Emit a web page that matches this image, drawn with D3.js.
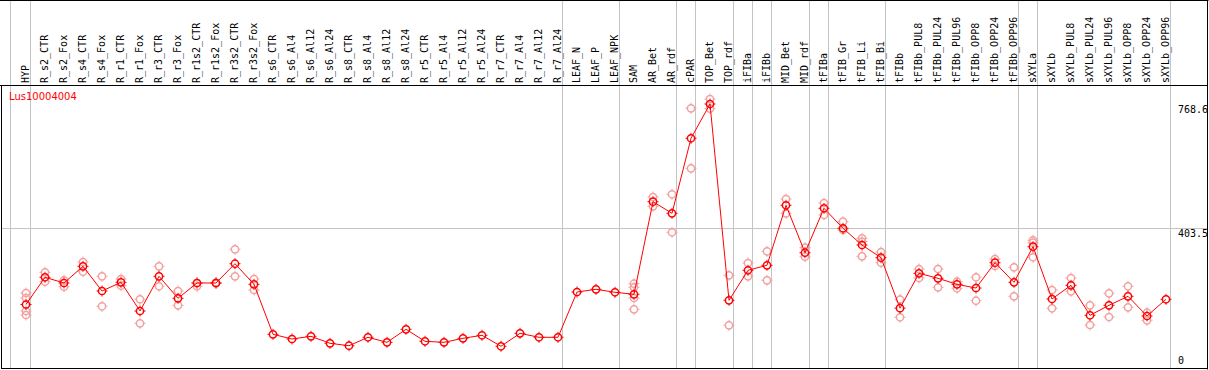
<!DOCTYPE html>
<html>
<head>
<meta charset="utf-8">
<script src="https://cdn.jsdelivr.net/npm/d3@7"></script>
<style>
  body { margin: 0; background: #fff; }
  svg { display: block; }
</style>
</head>
<body>
<div id="chart"></div>
<script>
const geneName = "Lus10004004";

// sample groups, a grey separator line falls between each group
const groups = [
  ["HYP"],
  ["R_s2_CTR", "R_s2_Fox", "R_s4_CTR", "R_s4_Fox", "R_r1_CTR", "R_r1_Fox", "R_r3_CTR", "R_r3_Fox",
   "R_r1s2_CTR", "R_r1s2_Fox", "R_r3s2_CTR", "R_r3s2_Fox", "R_s6_CTR", "R_s6_Al4", "R_s6_Al12", "R_s6_Al24",
   "R_s8_CTR", "R_s8_Al4", "R_s8_Al12", "R_s8_Al24", "R_r5_CTR", "R_r5_Al4", "R_r5_Al12", "R_r5_Al24",
   "R_r7_CTR", "R_r7_Al4", "R_r7_Al12", "R_r7_Al24"],
  ["LEAF_N", "LEAF_P", "LEAF_NPK"],
  ["SAM", "AR_Bet", "AR_rdf"],
  ["cPAR"],
  ["TOP_Bet", "TOP_rdf"],
  ["iFIBa"],
  ["iFIBb"],
  ["MID_Bet", "MID_rdf"],
  ["tFIBa"],
  ["tFIB_Gr", "tFIB_Li", "tFIB_Bi"],
  ["tFIBb", "tFIBb_PUL8", "tFIBb_PUL24", "tFIBb_PUL96", "tFIBb_OPP8", "tFIBb_OPP24", "tFIBb_OPP96"],
  ["sXYLa"],
  ["sXYLb", "sXYLb_PUL8", "sXYLb_PUL24", "sXYLb_PUL96", "sXYLb_OPP8", "sXYLb_OPP24", "sXYLb_OPP96"]
];

const categories = groups.flat();

const means = [
  178.2,
  258.3, 241.5, 290.6, 217.9, 243.5, 159.0, 261.2, 196.4,
  241.5, 241.5, 298.3, 237.6, 90.4, 76.6, 84.5, 63.9,
  56.8, 81.6, 66.8, 105.1, 69.8, 66.8, 78.6, 87.5,
  55.1, 93.3, 81.6, 81.6,
  215.0, 222.9, 214.1,
  208.2, 480.9, 446.7,
  667.6,
  768.6, 190.5,
  278.9,
  293.6,
  470.3, 330.7,
  461.5,
  402.6, 353.4, 316.0,
  167.3, 270.0, 255.3, 237.6, 226.7, 301.3, 243.5,
  348.4,
  194.4, 234.7, 146.4, 175.8, 202.3, 144.3, 193.5
];

// individual replicate values (lighter circles)
const replicates = [
  [212.0, 197.3, 159.0, 147.2],
  [273.0, 245.3], [249.4, 230.6], [303.3, 274.7], [261.2, 172.9], [253.3, 233.5], [193.5, 122.8], [290.6, 231.8], [217.9, 175.8],
  [241.5, 231.8], [243.0, 240.0], [340.7, 261.2], [253.3, 220.9], [], [], [], [],
  [], [], [], [], [], [], [], [],
  [], [], [], [],
  [], [], [],
  [239.4, 228.8, 197.3, 164.0], [494.7, 467.3], [502.7, 390.8],
  [755.9, 579.2],
  [783.0, 755.0], [264.1, 116.9],
  [300.4, 261.2],
  [334.8, 249.4],
  [488.8, 446.7], [345.4, 318.9],
  [477.1, 441.7],
  [422.0, 397.5], [373.1, 363.7, 320.1], [332.8, 301.3],
  [192.9, 140.5], [282.7, 256.2], [282.7, 228.8], [245.3, 225.9], [258.3, 189.3], [312.1, 291.5], [287.7, 202.3],
  [367.2, 360.1, 317.2],
  [220.9, 167.0], [256.2, 217.0], [175.8, 117.8], [211.1, 141.4], [231.8, 169.9], [154.0, 131.6], []
];

const yTicks = [0, 403.5, 768.6];

const width = 1209;
const height = 370;
const headerBottom = 85;
const plotBottom = 369;
const frameRight = 1208;

const svg = d3.select("#chart")
  .append("svg")
  .attr("width", width)
  .attr("height", height);

const x = d3.scalePoint()
  .domain(categories)
  .range([26, 1166]);

const y = d3.scaleLinear()
  .domain([0, 768.6])
  .range([365, 104]);

const grey = "#c4c4c4";

// horizontal mid grid line
svg.append("line")
  .attr("x1", 1).attr("x2", frameRight)
  .attr("y1", Math.round(y(yTicks[1])) + 0.5)
  .attr("y2", Math.round(y(yTicks[1])) + 0.5)
  .attr("stroke", grey);

// group separators
const sepX = [x(categories[0]) - x.step() + 3];
let idx = -1;
groups.forEach(g => {
  idx += g.length;
  sepX.push(x(categories[idx]) + 4);
});

svg.selectAll(".sep")
  .data(sepX)
  .enter()
  .append("line")
  .attr("x1", d => Math.round(d) + 0.5)
  .attr("x2", d => Math.round(d) + 0.5)
  .attr("y1", 0)
  .attr("y2", plotBottom)
  .attr("stroke", grey);

// frame
svg.append("path")
  .attr("d", `M0,0.5H${frameRight + 0.5}M${frameRight - 0.5},0V${plotBottom + 0.5}` +
    `M1.5,${headerBottom}V${plotBottom}M1,${plotBottom - 0.5}H${frameRight}` +
    `M0,${headerBottom + 0.5}H${frameRight}`)
  .attr("stroke", "#000")
  .attr("fill", "none");

// header labels
svg.selectAll(".cat")
  .data(categories)
  .enter()
  .append("text")
  .attr("transform", d => `translate(${Math.round(x(d)) + 3},83) rotate(-90)`)
  .attr("font-family", "DejaVu Sans Mono")
  .attr("font-size", "10px")
  .attr("fill", "#000")
  .text(d => d);

// gene name
svg.append("text")
  .attr("x", 9)
  .attr("y", 100)
  .attr("font-family", "DejaVu Sans")
  .attr("font-size", "10px")
  .attr("fill", "#ff0000")
  .text(geneName);

// right value labels
svg.selectAll(".ytick")
  .data(yTicks)
  .enter()
  .append("text")
  .attr("x", 1178)
  .attr("y", d => d === 0 ? Math.round(y(d)) - 1 : Math.round(y(d)) + 9)
  .attr("font-family", "DejaVu Sans Mono")
  .attr("font-size", "10px")
  .attr("fill", "#000")
  .text(d => d);

const tickPath = "M0,-5.5V-3.5M0,3.5V5.5M-5.5,0H-3.5M3.5,0H5.5";

function marker(sel, color) {
  sel.append("circle")
    .attr("r", 3.6)
    .attr("fill", "none")
    .attr("stroke", color)
    .attr("stroke-width", 1.5);
  sel.append("path")
    .attr("d", tickPath)
    .attr("stroke", color)
    .attr("stroke-width", 1);
}

// replicates
const repData = [];
replicates.forEach((vals, i) => {
  vals.forEach(v => repData.push({ cat: categories[i], v: v }));
});

svg.selectAll(".rep")
  .data(repData)
  .enter()
  .append("g")
  .attr("transform", d => `translate(${x(d.cat)},${y(d.v)})`)
  .call(marker, "#f2a0a0");

// mean line
const line = d3.line()
  .x((d, i) => x(categories[i]))
  .y(d => y(d));

svg.append("path")
  .datum(means)
  .attr("d", line)
  .attr("fill", "none")
  .attr("stroke", "#ff0000")
  .attr("stroke-width", 1);

svg.selectAll(".mean")
  .data(means)
  .enter()
  .append("g")
  .attr("transform", (d, i) => `translate(${x(categories[i])},${y(d)})`)
  .call(marker, "#ff0000");
</script>
</body>
</html>
